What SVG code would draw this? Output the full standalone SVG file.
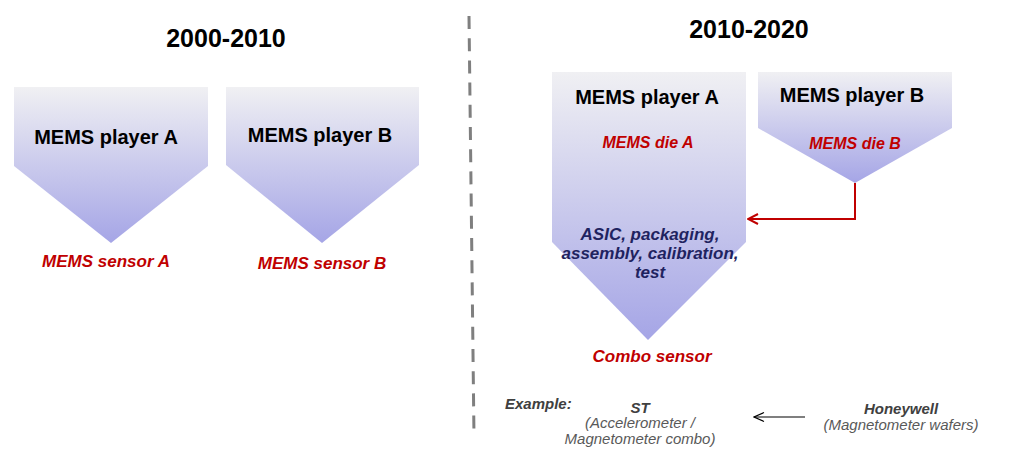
<svg xmlns="http://www.w3.org/2000/svg" width="1024" height="468" viewBox="0 0 1024 468">
<defs>
<linearGradient id="g" x1="0" y1="0" x2="0" y2="1">
<stop offset="0" stop-color="#f0f0f3"/>
<stop offset="1" stop-color="#a5a5e6"/>
</linearGradient>
<marker id="ar" markerWidth="12" markerHeight="12" refX="11" refY="6" orient="auto" markerUnits="userSpaceOnUse">
<path d="M1,1 L11,6 L1,11" fill="none" stroke="#c00000" stroke-width="2"/>
</marker>
<marker id="ak" markerWidth="12" markerHeight="12" refX="11" refY="6" orient="auto" markerUnits="userSpaceOnUse">
<path d="M1,1.5 L11,6 L1,10.5" fill="none" stroke="#000" stroke-width="1.2"/>
</marker>
</defs>
<style>
.sh{fill:url(#g);stroke:none}
.t{font-family:"Liberation Sans",Arial,sans-serif;text-anchor:middle}
.hd{font-size:25px;font-weight:bold;fill:#000}
.pl{font-size:20px;font-weight:bold;fill:#000}
.rd{font-weight:bold;font-style:italic;fill:#c00000}
.nv{font-size:17px;font-weight:bold;font-style:italic;fill:#1f2360}
.gy{font-size:15px;font-style:italic;fill:#595959}
.gb{font-weight:bold;fill:#404040}
</style>
<rect width="1024" height="468" fill="#fff"/>
<text class="t hd" x="226" y="47">2000-2010</text>
<text class="t hd" x="749" y="38">2010-2020</text>
<line x1="469" y1="16" x2="474" y2="437" stroke="#7f7f7f" stroke-width="3" stroke-dasharray="13,9.2"/>
<g id="left-a">
<polygon class="sh" points="14,87 208,87 208,166 111,243 14,166"/>
<text class="t pl" x="106" y="144">MEMS player A</text>
<text class="t rd" x="106" y="267" font-size="17">MEMS sensor A</text>
</g>
<g id="left-b">
<polygon class="sh" points="226,87 419,87 419,165 322,243 226,165"/>
<text class="t pl" x="320" y="142">MEMS player B</text>
<text class="t rd" x="322" y="269" font-size="17">MEMS sensor B</text>
</g>
<g id="right-a">
<polygon class="sh" points="552,72 746,72 746,242 648,340 552,242"/>
<text class="t pl" x="647" y="104">MEMS player A</text>
<text class="t rd" x="648" y="148" font-size="16">MEMS die A</text>
<text class="t nv" x="650" y="240">ASIC, packaging,</text>
<text class="t nv" x="650" y="259">assembly, calibration,</text>
<text class="t nv" x="650" y="278">test</text>
<text class="t rd" x="652" y="362" font-size="17">Combo sensor</text>
</g>
<g id="right-b">
<polygon class="sh" points="758,72 952,72 952,128 855,183 758,128"/>
<text class="t pl" x="852" y="102">MEMS player B</text>
<text class="t rd" x="855" y="149" font-size="16">MEMS die B</text>
</g>
<g id="connectors">
<polyline points="855,183 855,219 748,219" fill="none" stroke="#c00000" stroke-width="2" marker-end="url(#ar)"/>
<line x1="805" y1="417" x2="754" y2="417" stroke="#000" stroke-width="1.2" marker-end="url(#ak)"/>
</g>
<g id="example">
<text class="gy gb" x="505" y="409" font-family="Liberation Sans, Arial, sans-serif" font-size="14">Example:</text>
<text class="t gy gb" x="640" y="413">ST</text>
<text class="t gy" x="640" y="428">(Accelerometer /</text>
<text class="t gy" x="640" y="444">Magnetometer combo)</text>
<text class="t gy gb" x="901" y="414">Honeywell</text>
<text class="t gy" x="901" y="430">(Magnetometer wafers)</text>
</g>
</svg>
